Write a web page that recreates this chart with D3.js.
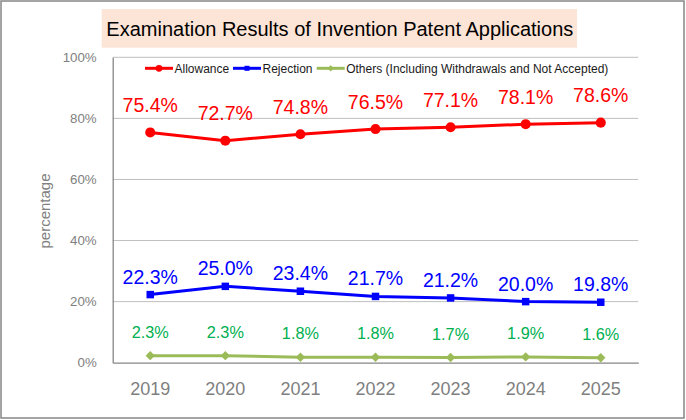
<!DOCTYPE html>
<html><head><meta charset="utf-8">
<script src="https://cdn.jsdelivr.net/npm/d3@7"></script>
<style>body{margin:0;background:#fff}svg{display:block;font-family:"Liberation Sans",Arial,sans-serif}</style>
</head><body><svg id="c" width="686" height="420"></svg>
<script>
const years = ["2019","2020","2021","2022","2023","2024","2025"];
const allowance = [75.4,72.7,74.8,76.5,77.1,78.1,78.6];
const rejection = [22.3,25.0,23.4,21.7,21.2,20.0,19.8];
const others = [2.3,2.3,1.8,1.8,1.7,1.9,1.6];
const yTicks = [0,20,40,60,80,100];
const seriesNames = ["Allowance","Rejection","Others (Including Withdrawals and Not Accepted)"];
const titleText = "Examination Results of Invention Patent Applications";
const yTitle = "percentage";

const svg = d3.select("#c");
svg.append("rect").attr("x",1).attr("y",1).attr("width",683).attr("height",417)
  .attr("fill","#fff").attr("stroke","#868686").attr("stroke-width",1.5);

const L=112.7,R=638.3,T=57.3,B=362.7;
const x = d3.scaleBand().domain(years).range([L,R]);
const y = d3.scaleLinear().domain([0,100]).range([B,T]);
const cx = d => x(d)+x.bandwidth()/2;

// gridlines
svg.append("g").selectAll("line").data(yTicks.filter(t=>t>0)).join("line")
  .attr("x1",L).attr("x2",R).attr("y1",d=>y(d)).attr("y2",d=>y(d))
  .attr("stroke","#bfbfbf").attr("stroke-width",1);

// y axis
const ya = svg.append("g").attr("transform",`translate(${L},0)`)
  .call(d3.axisLeft(y).tickValues(yTicks).tickFormat(d=>d+"%").tickSize(0).tickPadding(16));
ya.select(".domain").attr("stroke","#868686").attr("stroke-width",1.3);
ya.selectAll("text").attr("fill","#808080").attr("font-size",13.3)
  .attr("font-family","'Liberation Sans',Arial,sans-serif");

// x axis
const xa = svg.append("g").attr("transform",`translate(0,${B})`)
  .call(d3.axisBottom(x).tickSize(0).tickPadding(20));
xa.select(".domain").attr("stroke","#868686").attr("stroke-width",1.3);
xa.selectAll("text").attr("fill","#7f7f7f").attr("font-size",18)
  .attr("font-family","'Liberation Sans',Arial,sans-serif");

// y title
svg.append("text").attr("transform","translate(50,211) rotate(-90)")
  .attr("text-anchor","middle").attr("fill","#808080").attr("font-size",15)
  .text(yTitle);

// title
svg.append("rect").attr("x",101.7).attr("y",9).attr("width",475.3).attr("height",38.7).attr("fill","#fce4d6");
svg.append("text").attr("x",339.8).attr("y",35.5).attr("text-anchor","middle")
  .attr("font-size",20).attr("fill","#000").text(titleText);

const diamond = {draw(ctx,size){const r=Math.sqrt(size/2);ctx.moveTo(0,-r);ctx.lineTo(r,0);ctx.lineTo(0,r);ctx.lineTo(-r,0);ctx.closePath();}};
const sym = {circle:d3.symbolCircle, square:d3.symbolSquare, diamond:diamond};

const series = [
  {name:seriesNames[0], values:allowance, color:"#ff0000", marker:"circle", label:"#ff0000", fs:19.5, off:20.5, msize:80},
  {name:seriesNames[1], values:rejection, color:"#0000ff", marker:"square", label:"#0000ff", fs:19.5, off:11, msize:56},
  {name:seriesNames[2], values:others, color:"#9bbb59", marker:"diamond", label:"#00b050", fs:16.3, off:18, msize:44}
];
const line = d3.line().x((d,i)=>cx(years[i])).y(d=>y(d));

series.forEach(s=>{
  const g = svg.append("g");
  g.append("path").attr("d",line(s.values)).attr("fill","none").attr("stroke",s.color).attr("stroke-width",3);
  g.selectAll("path.m").data(s.values).join("path").attr("class","m")
    .attr("transform",(d,i)=>`translate(${cx(years[i])},${y(d)})`)
    .attr("d",d3.symbol(sym[s.marker],s.msize)).attr("fill",s.color);
  g.selectAll("text").data(s.values).join("text")
    .attr("x",(d,i)=>cx(years[i])).attr("y",d=>y(d)-s.off)
    .attr("text-anchor","middle").attr("font-size",s.fs).attr("fill",s.label)
    .text(d=>d.toFixed(1)+"%");
});

// legend
const legX = [145,233,316.7];
const ly = 68.3;
series.forEach((s,i)=>{
  const g = svg.append("g").attr("transform",`translate(${legX[i]},${ly})`);
  g.append("line").attr("x1",0).attr("x2",28).attr("stroke",s.color).attr("stroke-width",3);
  g.append("path").attr("transform","translate(14,0)").attr("d",d3.symbol(sym[s.marker],s.msize*0.45)).attr("fill",s.color);
  g.append("text").attr("x",29.5).attr("y",4.3).attr("font-size",12).attr("fill","#1a1a1a").text(s.name);
});
</script></body></html>
